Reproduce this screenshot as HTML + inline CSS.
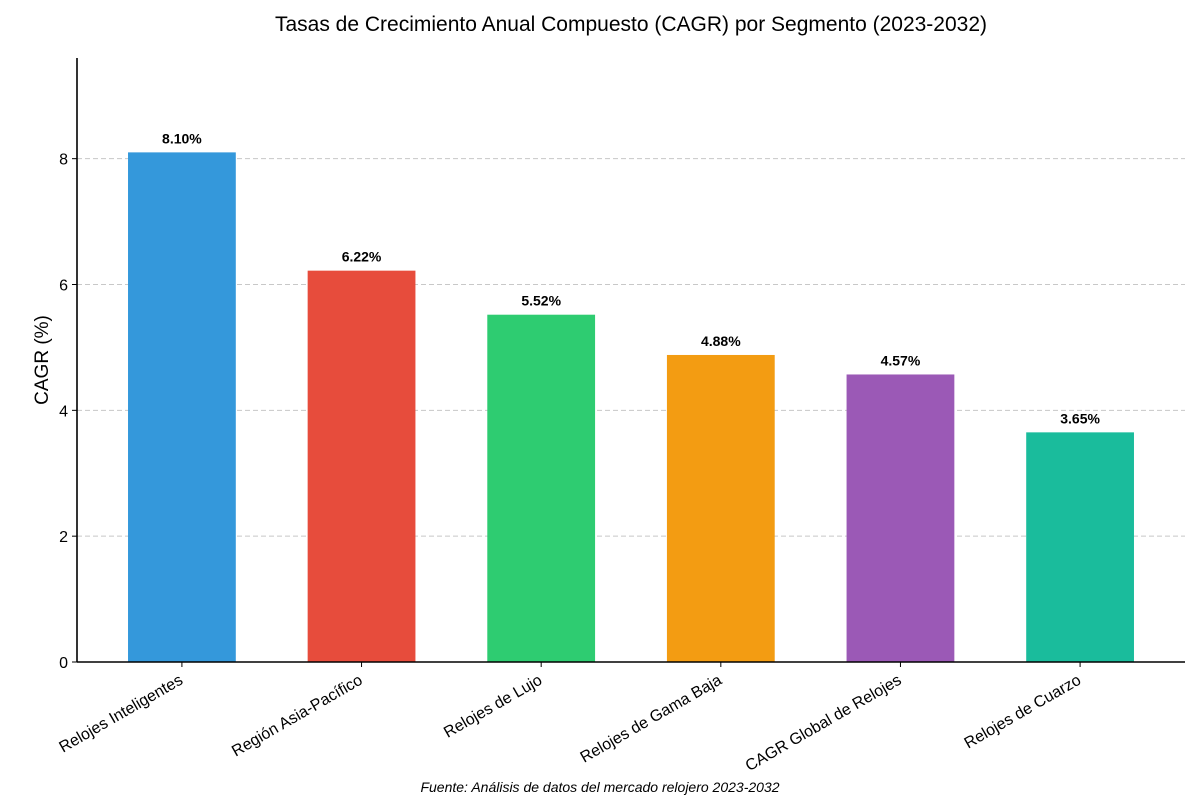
<!DOCTYPE html>
<html><head><meta charset="utf-8"><style>
body{margin:0;background:#fff;font-family:"Liberation Sans",sans-serif}
</style></head><body>
<svg width="1200" height="800" xmlns="http://www.w3.org/2000/svg" font-family="Liberation Sans, sans-serif">
<text x="631" y="31" font-size="21" text-anchor="middle">Tasas de Crecimiento Anual Compuesto (CAGR) por Segmento (2023-2032)</text>
<g id="grid"></g><g id="bars"></g><g id="labels"></g><g id="axes"></g>
<text transform="translate(48,360) rotate(-90)" font-size="19" text-anchor="middle">CAGR (%)</text>
<text x="600" y="792" font-size="14" font-style="italic" text-anchor="middle">Fuente: Análisis de datos del mercado relojero 2023-2032</text>
</svg>
<script>
const categories=["Relojes Inteligentes","Región Asia-Pacífico","Relojes de Lujo","Relojes de Gama Baja","CAGR Global de Relojes","Relojes de Cuarzo"];
const values=[8.10,6.22,5.52,4.88,4.57,3.65];
const colors=["#3498db","#e74c3c","#2ecc71","#f39c12","#9b59b6","#1abc9c"];
const yTicks=[0,2,4,6,8];
const NS="http://www.w3.org/2000/svg";
const L=77,R=1185,T=58,B=662,yMax=9.6,xMin=-0.584,xMax=5.584;
const xs=i=>L+(i-xMin)/(xMax-xMin)*(R-L);
const ys=v=>B-v/yMax*(B-T);
function mk(tag,attrs,parent,txt){const e=document.createElementNS(NS,tag);for(const k in attrs)e.setAttribute(k,attrs[k]);if(txt!==undefined)e.textContent=txt;document.getElementById(parent).appendChild(e);return e;}
yTicks.forEach(t=>{
 if(t>0){const g=mk('line',{x1:L,x2:R,y1:ys(t),y2:ys(t),stroke:'#c8c8c8','stroke-dasharray':'5,3'},'grid');
 }
 const tk=mk('line',{x1:L-5,x2:L,y1:ys(t),y2:ys(t),stroke:'#000'},'axes');
 
 const tl=mk('text',{x:L-9,y:ys(t)+6,'font-size':16,'text-anchor':'end'},'axes',String(t));
 
});
const bw=0.6/(xMax-xMin)*(R-L);
values.forEach((v,i)=>{
 const cx=xs(i);
 const r=mk('rect',{x:cx-bw/2,y:ys(v),width:bw,height:B-ys(v),fill:colors[i]},'bars');
 
 const vl=mk('text',{x:cx,y:ys(v)-9,'font-size':14,'font-weight':'bold','text-anchor':'middle'},'labels',v.toFixed(2)+'%');
 
 const tk=mk('line',{x1:cx,x2:cx,y1:B,y2:B+5,stroke:'#000'},'axes');
 
 const xl=mk('text',{transform:`translate(${cx+2},${B+21}) rotate(-30)`,'font-size':16,'text-anchor':'end'},'axes',categories[i]);
 
});
const ya=mk('line',{x1:L,x2:L,y1:T,y2:B,stroke:'#000','stroke-width':1.6},'axes');

const xa=mk('line',{x1:L,x2:R,y1:B,y2:B,stroke:'#000','stroke-width':1.6},'axes');

</script>
</body></html>
